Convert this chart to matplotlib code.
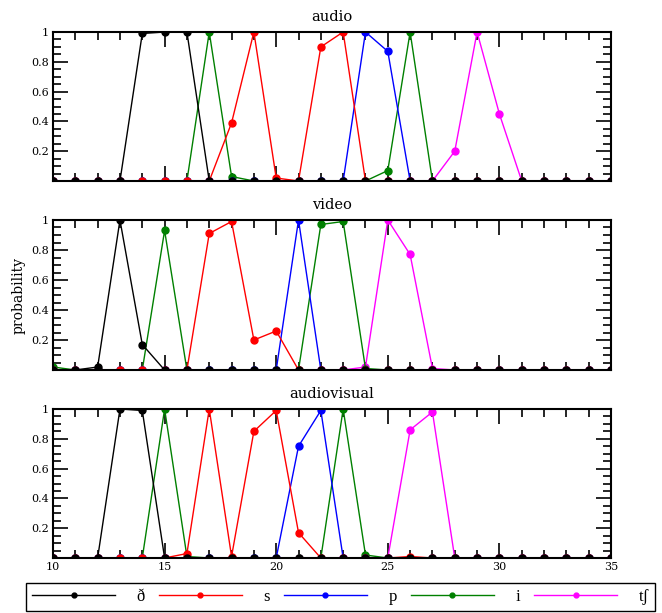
import numpy as np
import matplotlib
matplotlib.use('Agg')
import matplotlib.pyplot as plt
from matplotlib.ticker import MultipleLocator

plt.rcParams['font.family'] = ['DejaVu Serif']

# frame index on the x axis
x = list(range(10, 36))

labels = ['ð', 's', 'p', 'i', 'tʃ']
colors = ['black', 'red', 'blue', 'green', 'magenta']
titles = ['audio', 'video', 'audiovisual']

# values per panel, per phoneme (x = 10 .. 35)
audio = [
    [0, 0, 0, 0, 0.99, 1, 1, 0, 0, 0, 0, 0, 0, 0, 0, 0, 0, 0, 0, 0, 0, 0, 0, 0, 0, 0],
    [0, 0, 0, 0, 0, 0, 0, 0, 0.39, 1, 0.02, 0, 0.9, 1, 0, 0, 0, 0, 0, 0, 0, 0, 0, 0, 0, 0],
    [0, 0, 0, 0, 0, 0, 0, 0, 0, 0, 0, 0, 0, 0, 1, 0.87, 0, 0, 0, 0, 0, 0, 0, 0, 0, 0],
    [0, 0, 0, 0, 0, 0, 0, 1, 0.03, 0, 0, 0, 0, 0, 0, 0.07, 1, 0, 0, 0, 0, 0, 0, 0, 0, 0],
    [0, 0, 0, 0, 0, 0, 0, 0, 0, 0, 0, 0, 0, 0, 0, 0, 0, 0, 0.2, 1, 0.45, 0, 0, 0, 0, 0],
]
video = [
    [0, 0, 0.02, 1, 0.17, 0, 0, 0, 0, 0, 0, 0, 0, 0, 0, 0, 0, 0, 0, 0, 0, 0, 0, 0, 0, 0],
    [0, 0, 0, 0, 0, 0, 0, 0.91, 0.99, 0.2, 0.26, 0, 0, 0, 0, 0, 0, 0, 0, 0, 0, 0, 0, 0, 0, 0],
    [0, 0, 0, 0, 0, 0, 0, 0, 0, 0, 0, 1, 0, 0, 0, 0, 0, 0, 0, 0, 0, 0, 0, 0, 0, 0],
    [0.02, 0, 0, 0, 0, 0.93, 0, 0, 0, 0, 0, 0, 0.97, 0.99, 0.01, 0, 0, 0, 0, 0, 0, 0, 0, 0, 0, 0],
    [0, 0, 0, 0, 0, 0, 0, 0, 0, 0, 0, 0, 0, 0, 0.02, 1, 0.77, 0.01, 0, 0, 0, 0, 0, 0, 0, 0],
]
audiovisual = [
    [0, 0, 0, 1, 0.99, 0, 0, 0, 0, 0, 0, 0, 0, 0, 0, 0, 0, 0, 0, 0, 0, 0, 0, 0, 0, 0],
    [0, 0, 0, 0, 0, 0, 0.03, 1, 0.01, 0.85, 0.99, 0.17, 0, 0, 0, 0, 0.01, 0, 0, 0, 0, 0, 0, 0, 0, 0],
    [0, 0, 0, 0, 0, 0, 0, 0, 0, 0, 0, 0.75, 0.99, 0, 0, 0, 0, 0, 0, 0, 0, 0, 0, 0, 0, 0],
    [0, 0, 0, 0, 0, 1, 0.01, 0, 0, 0, 0, 0, 0, 1, 0.02, 0, 0, 0, 0, 0, 0, 0, 0, 0, 0, 0],
    [0, 0, 0, 0, 0, 0, 0, 0, 0, 0, 0, 0, 0, 0, 0, 0, 0.86, 0.98, 0, 0, 0, 0, 0, 0, 0, 0],
]
panels = [audio, video, audiovisual]

fig = plt.figure(figsize=(6.62, 6.13), dpi=100)
W, H = 662, 613
left, right = 53, 611
boxes = [(32, 181), (220, 370), (409, 558)]

handles = [None] * 5
for k, (top, bot) in enumerate(boxes):
    ax = fig.add_axes([left / W, 1 - bot / H, (right - left) / W, (bot - top) / H])
    # draw last series first so the black one ends up on top
    for j in reversed(range(5)):
        line, = ax.plot(x, panels[k][j], color=colors[j], lw=1.0, marker='o', ms=5, label=labels[j])
        handles[j] = line
    ax.set_xlim(10, 35)
    ax.set_ylim(0, 1)
    ax.set_title(titles[k], fontsize=10.5, pad=8)
    ax.xaxis.set_major_locator(MultipleLocator(5))
    ax.xaxis.set_minor_locator(MultipleLocator(1))
    ax.set_yticks([0.2, 0.4, 0.6, 0.8, 1.0])
    ax.set_yticklabels(['0.2', '0.4', '0.6', '0.8', '1'])
    ax.yaxis.set_minor_locator(MultipleLocator(0.05))
    ax.tick_params(which='both', direction='in', top=True, right=True, width=1.2, labelsize=8, pad=3)
    ax.tick_params(which='major', length=11)
    ax.tick_params(which='minor', length=5.5)
    for s in ax.spines.values():
        s.set_linewidth(1.5)
    if k < 2:
        ax.tick_params(labelbottom=False)
    if k == 1:
        ax.set_ylabel('probability', fontsize=10, labelpad=4)

leg = fig.legend(handles, labels, loc='lower left', ncol=5, mode='expand',
                 bbox_to_anchor=(26 / W, 2 / H, 629 / W, 24 / H), borderaxespad=0,
                 handlelength=5, handletextpad=1.3, markerscale=0.7,
                 fancybox=False, edgecolor='black', framealpha=1, borderpad=0.35,
                 prop={'family': ['Liberation Serif', 'DejaVu Serif'], 'size': 12})
leg.get_frame().set_linewidth(1.0)

fig.savefig('out.png', dpi=100)
